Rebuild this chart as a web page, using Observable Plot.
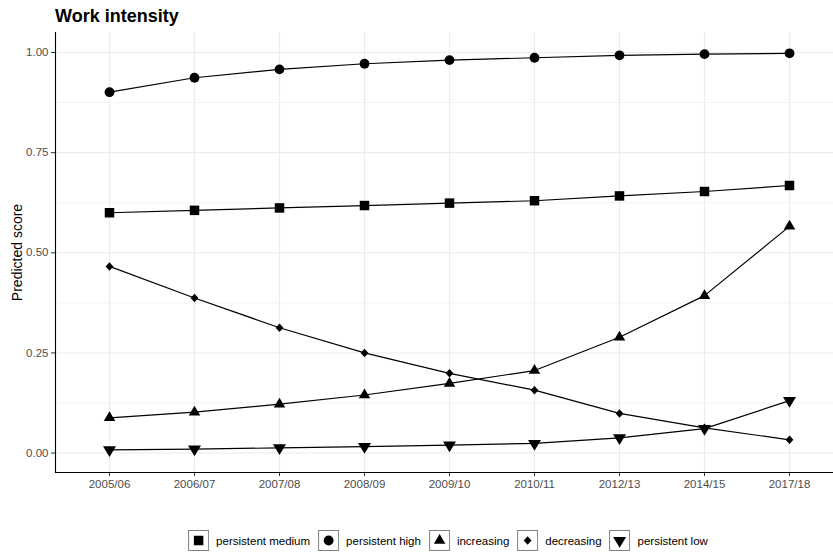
<!DOCTYPE html>
<html>
<head>
<meta charset="utf-8">
<script src="https://cdn.jsdelivr.net/npm/d3@7"></script>
<script src="https://cdn.jsdelivr.net/npm/@observablehq/plot@0.6"></script>
<style>
  html, body { margin: 0; padding: 0; background: #fff; }
  body { width: 833px; height: 553px; position: relative; overflow: hidden; font-family: "Liberation Sans", Arial, sans-serif; }
  #title { position: absolute; left: 55px; top: 7px; font-size: 18px; font-weight: bold; line-height: 18px; color: #000; }
  #chart { position: absolute; left: 0; top: 0; }
  #legend { position: absolute; top: 530px; left: 452px; transform: translateX(-50%); display: flex; align-items: center; white-space: nowrap; font-size: 11.5px; color: #000; }
  #legend .item { display: flex; align-items: center; margin-right: 8px; }
  #legend svg { display: block; margin-right: 7px; }
</style>
</head>
<body>
<div id="title">Work intensity</div>
<div id="chart"></div>
<div id="legend"></div>
<script>
const years = ["2005/06","2006/07","2007/08","2008/09","2009/10","2010/11","2012/13","2014/15","2017/18"];
const seriesNames = ["persistent medium","persistent high","increasing","decreasing","persistent low"];
const persistentMedium = [0.600,0.606,0.612,0.618,0.624,0.630,0.642,0.653,0.668];
const persistentHigh   = [0.901,0.937,0.958,0.972,0.981,0.987,0.993,0.996,0.998];
const increasing       = [0.088,0.102,0.122,0.145,0.174,0.206,0.289,0.393,0.566];
const decreasing       = [0.466,0.387,0.313,0.250,0.199,0.157,0.099,0.063,0.033];
const persistentLow    = [0.008,0.010,0.013,0.016,0.020,0.024,0.038,0.061,0.131];
const yTicks = [0, 0.25, 0.5, 0.75, 1];
const yMinorTicks = [0.125, 0.375, 0.625, 0.875];

const seriesValues = [persistentMedium, persistentHigh, increasing, decreasing, persistentLow];
const rows = [];
seriesNames.forEach((s, k) => years.forEach((yr, i) => rows.push({series: s, year: yr, value: seriesValues[k][i]})));

// custom symbols (ggplot shapes 15, 16, 17, 18, 25-filled)
const mk = f => ({draw(ctx, size) { const r = Math.sqrt(size / Math.PI); f(ctx, r); }});
const symSquare = mk((c, r) => { const s = r * 0.95; c.moveTo(-s, -s); c.lineTo(s, -s); c.lineTo(s, s); c.lineTo(-s, s); c.closePath(); });
const symCircle = mk((c, r) => { const s = r * 0.98; c.moveTo(s, 0); c.arc(0, 0, s, 0, 2 * Math.PI); });
const symTriUp = mk((c, r) => { const w = r * 1.15, h = r * 1.95; c.moveTo(0, -2 * h / 3); c.lineTo(w, h / 3); c.lineTo(-w, h / 3); c.closePath(); });
const symDiamond = mk((c, r) => { const w = r * 0.78, h = r * 0.85; c.moveTo(0, -h); c.lineTo(w, 0); c.lineTo(0, h); c.lineTo(-w, 0); c.closePath(); });
const symTriDown = mk((c, r) => { const w = r * 1.3, h = r * 2.15; c.moveTo(-w, -h / 3); c.lineTo(w, -h / 3); c.lineTo(0, 2 * h / 3); c.closePath(); });
const symbols = [symSquare, symCircle, symTriUp, symDiamond, symTriDown];

const font = "Liberation Sans, Arial, sans-serif";
const chart = Plot.plot({
  width: 833,
  height: 520,
  marginTop: 32,
  marginBottom: 48,
  marginLeft: 55,
  marginRight: -9,
  style: {fontFamily: font, background: "transparent"},
  x: {type: "point", domain: years, padding: 0.6, label: null},
  y: {domain: [-0.0485, 1.05], label: null},
  marks: [
    Plot.gridY(yMinorTicks, {stroke: "#ebebeb", strokeOpacity: 1, strokeWidth: 0.6}),
    Plot.gridY(yTicks, {stroke: "#ebebeb", strokeOpacity: 1, strokeWidth: 1.1}),
    Plot.gridX(years, {stroke: "#ebebeb", strokeOpacity: 1, strokeWidth: 1.1}),
    Plot.line(rows, {x: "year", y: "value", z: "series", stroke: "#000", strokeWidth: 1.2}),
    ...seriesNames.map((s, k) => Plot.dot(rows.filter(d => d.series === s), {x: "year", y: "value", r: 5, symbol: symbols[k], fill: "#000", stroke: "none"})),
    Plot.axisY(yTicks, {tickSize: 4, tickPadding: 3, stroke: "#333", fill: "#4d4d4d", fontSize: 11.5, tickFormat: d3.format(".2f"), label: null}),
    Plot.axisX(years, {tickSize: 4, tickPadding: 3, stroke: "#333", fill: "#4d4d4d", fontSize: 11.5, label: null}),
    Plot.frame({anchor: "left", stroke: "#000", strokeWidth: 1.1}),
    Plot.frame({anchor: "bottom", stroke: "#000", strokeWidth: 1.1}),
    Plot.text(["Predicted score"], {frameAnchor: "left", textAnchor: "middle", lineAnchor: "middle", rotate: -90, dx: -38, text: d => d, fontSize: 14, fill: "#000"})
  ]
});
document.getElementById("chart").appendChild(chart);

// legend
const legend = d3.select("#legend");
seriesNames.forEach((s, k) => {
  const item = legend.append("div").attr("class", "item");
  const svg = item.append("svg").attr("width", 21).attr("height", 21);
  svg.append("rect").attr("x", 0.5).attr("y", 0.5).attr("width", 20).attr("height", 20).attr("fill", "#fff").attr("stroke", "#7f7f7f").attr("stroke-width", 1);
  const p = d3.path();
  symbols[k].draw(p, 5 * 5 * Math.PI);
  svg.append("path").attr("transform", "translate(10.5,10.5)").attr("d", p.toString()).attr("fill", "#000");
  item.append("span").text(s);
});
</script>
</body>
</html>
